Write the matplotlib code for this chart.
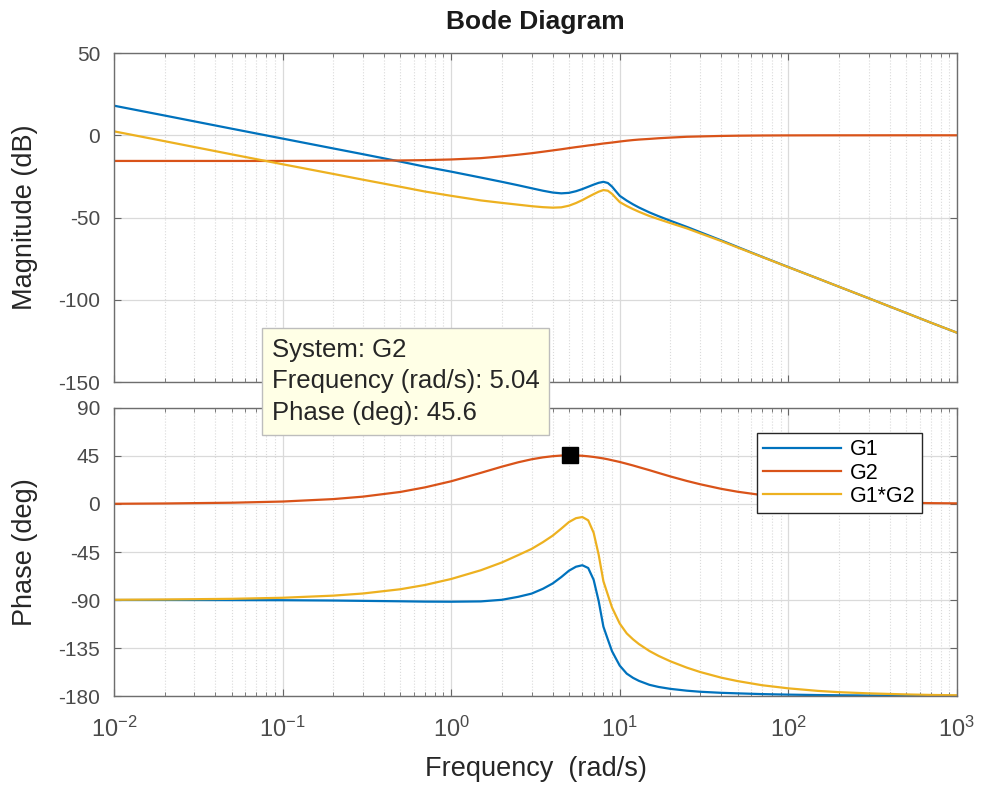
import matplotlib
matplotlib.use("Agg")
import matplotlib.pyplot as plt
from matplotlib.ticker import LogLocator, NullFormatter

plt.rcParams['font.family'] = ['Liberation Sans', 'DejaVu Sans']
plt.rcParams['axes.unicode_minus'] = False

freq = [0.01, 0.02, 0.05, 0.1, 0.2, 0.3, 0.5, 0.7, 1, 1.5, 2, 2.5, 3, 3.5, 4, 4.5,
        5, 5.5, 6, 6.5, 7, 7.5, 8, 8.5, 9, 9.5, 10, 11, 12, 13, 15, 17, 20, 25, 30,
        40, 50, 70, 100, 150, 200, 300, 500, 700, 1000]

# magnitude (dB)
mag_g1 = [18.0, 12.0, 4.0, -2.0, -8.0, -11.5, -16.0, -19.1, -22.1, -25.7, -28.3,
          -30.4, -32.2, -33.7, -34.8, -35.3, -35.0, -34.0, -32.7, -31.3, -30.0,
          -28.9, -28.3, -29.0, -31.2, -34.1, -36.8, -39.7, -42.0, -43.9, -46.9,
          -49.2, -52.0, -55.7, -58.9, -63.9, -67.9, -73.9, -80.1, -87.1, -92.1,
          -99.1, -108.0, -113.9, -120.0]
mag_g2 = [-15.6, -15.6, -15.6, -15.6, -15.5, -15.5, -15.3, -15.1, -14.7, -13.9,
          -12.8, -11.8, -10.9, -10.0, -9.2, -8.5, -7.8, -7.2, -6.7, -6.2, -5.8,
          -5.4, -5.0, -4.7, -4.4, -4.1, -3.8, -3.3, -2.9, -2.6, -2.2, -1.8, -1.4,
          -0.9, -0.7, -0.4, -0.25, -0.13, -0.06, -0.03, -0.02, -0.01, 0.0, 0.0, 0.0]
mag_g12 = [2.4, -3.6, -11.6, -17.6, -23.5, -27.0, -31.3, -34.2, -36.8, -39.6,
           -41.1, -42.2, -43.1, -43.7, -44.0, -43.8, -42.8, -41.2, -39.4, -37.5,
           -35.8, -34.3, -33.3, -33.7, -35.6, -38.2, -40.6, -43.0, -44.9, -46.5,
           -49.1, -51.0, -53.4, -56.6, -59.6, -64.3, -68.2, -74.0, -80.2, -87.1,
           -92.1, -99.1, -108.0, -113.9, -120.0]

# phase (deg)
ph_g1 = [-90.0, -90.0, -90.1, -90.2, -90.5, -90.8, -91.2, -91.5, -91.6, -91.3,
         -89.8, -87.0, -84.0, -79.5, -74.5, -68.5, -62.5, -58.8, -57.4, -60.0,
         -71.0, -91.0, -115.0, -127.0, -138.0, -145.0, -151.5, -159.0, -163.0,
         -165.8, -169.5, -171.5, -173.3, -175.0, -176.0, -177.0, -177.5, -178.2,
         -178.7, -179.1, -179.3, -179.5, -179.7, -179.8, -179.9]
ph_g2 = [0.2, 0.5, 1.2, 2.3, 4.6, 6.9, 11.3, 15.6, 21.3, 29.2, 35.0, 39.1, 41.9,
         43.7, 44.8, 45.4, 45.6, 45.5, 45.2, 44.7, 44.1, 43.4, 42.7, 41.9, 41.0,
         40.2, 39.4, 37.7, 36.1, 34.5, 31.7, 29.1, 25.8, 21.6, 18.5, 14.2, 11.5,
         8.3, 5.9, 3.9, 2.9, 2.0, 1.2, 0.8, 0.6]
ph_g12 = [-89.8, -89.5, -88.9, -87.9, -85.9, -83.9, -79.9, -75.9, -70.3, -62.1,
          -54.8, -47.9, -42.1, -35.8, -29.7, -23.1, -16.9, -13.3, -12.2, -15.3,
          -26.9, -47.6, -72.4, -85.1, -97.0, -104.8, -112.1, -121.3, -126.9,
          -131.3, -137.8, -142.4, -147.5, -153.4, -157.5, -162.8, -166.0, -169.9,
          -172.8, -175.2, -176.4, -177.5, -178.5, -179.0, -179.3]

names = ['G1', 'G2', 'G1*G2']
colors = ['#0072BD', '#D95319', '#EDB120']

tip_freq = 5.04
tip_phase = 45.6

fig = plt.figure(figsize=(9.85, 7.87), dpi=100)
ax1 = fig.add_axes([0.1157, 0.5146, 0.8558, 0.418])
ax2 = fig.add_axes([0.1157, 0.1156, 0.8558, 0.366])

for ax in (ax1, ax2):
    ax.set_xscale('log')
    ax.set_xlim(1e-2, 1e3)
    ax.xaxis.set_major_locator(LogLocator(base=10, numticks=10))
    ax.xaxis.set_minor_locator(LogLocator(base=10, subs=range(2, 10), numticks=20))
    ax.xaxis.set_minor_formatter(NullFormatter())
    ax.grid(True, which='major', color='#dadada', linewidth=0.9, linestyle='-')
    ax.grid(True, which='minor', color='#dadada', linewidth=0.8, linestyle=':')
    ax.tick_params(which='both', direction='in', top=True, right=True,
                   colors='#666666', labelcolor='#4a4a4a')
    ax.tick_params(axis='y', labelsize=15, pad=10)
    ax.tick_params(axis='x', labelsize=17, pad=15)
    ax.tick_params(which='major', length=5)
    ax.tick_params(which='minor', length=3)
    for sp in ax.spines.values():
        sp.set_color('#6e6e6e')
        sp.set_linewidth(1.0)
    ax.set_axisbelow(True)

for m, c, n in zip([mag_g1, mag_g2, mag_g12], colors, names):
    ax1.plot(freq, m, color=c, linewidth=1.6, label=n)
ax1.set_ylim(-150, 50)
ax1.set_yticks([-150, -100, -50, 0, 50])
ax1.tick_params(labelbottom=False)
ax1.set_ylabel('Magnitude (dB)', fontsize=19.5, color='#262626')
ax1.set_title('Bode Diagram', fontsize=19, fontweight='bold', color='#1a1a1a', pad=17)

for p, c, n in zip([ph_g1, ph_g2, ph_g12], colors, names):
    ax2.plot(freq, p, color=c, linewidth=1.6, label=n)
ax2.plot([tip_freq], [tip_phase], 's', color='black', markersize=11)
ax2.set_ylim(-180, 90)
ax2.set_yticks([-180, -135, -90, -45, 0, 45, 90])
ax2.set_ylabel('Phase (deg)', fontsize=19.5, color='#262626')
ax2.set_xlabel('Frequency  (rad/s)', fontsize=19.5, color='#262626', labelpad=10)
ax1.yaxis.set_label_coords(-0.09, 0.5)
ax2.yaxis.set_label_coords(-0.09, 0.5)

leg = ax2.legend(loc='upper left', bbox_to_anchor=(757 / 985, 1 - 433 / 787),
                 bbox_transform=fig.transFigure, fontsize=15.5, fancybox=False,
                 framealpha=1, edgecolor='#262626', handlelength=3.6,
                 handletextpad=0.4, borderaxespad=0, labelspacing=0.1,
                 borderpad=0.3)
leg.get_frame().set_linewidth(1.0)

fig.text(0.276, 0.571,
         'System: G2\nFrequency (rad/s): %.2f\nPhase (deg): %.1f' % (tip_freq, tip_phase),
         ha='left', va='top', fontsize=18.5, color='#262626', linespacing=1.4,
         bbox=dict(boxstyle='square,pad=0.38', facecolor='#ffffe6',
                   edgecolor='#bdbdbd', linewidth=1.0),
         zorder=20)

fig.savefig('out.png', dpi=100)
